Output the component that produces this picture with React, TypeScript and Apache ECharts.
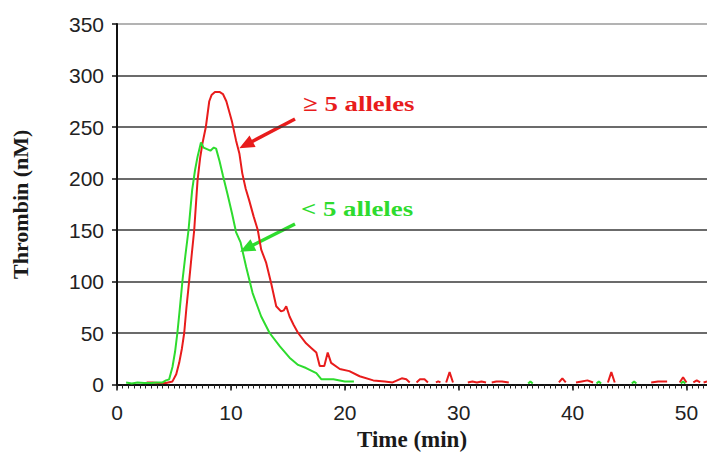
import React, { useEffect, useRef } from "react";
import * as echarts from "echarts";

// x axis: time in minutes, y axis: thrombin concentration in nM
const xMin = 0;
const xMax = 51.8;
const xInterval = 10;
const yMin = 0;
const yMax = 350;
const yInterval = 50;

const xTitle = "Time (min)";
const yTitle = "Thrombin (nM)";
const labelHigh = "≥ 5 alleles";
const labelLow = "< 5 alleles";

// "≥ 5 alleles" curve (null = gap)
const redTime = [
  2.6, 3.1, 3.6, 4.3, 4.87, 5.2, 5.46, 5.7, 5.9, 6.1, 6.34, 6.55, 6.78, 7.07, 7.3, 7.5, 7.8, 8.1, 8.3,
  8.6, 9.0, 9.3, 9.6, 10.1, 10.45, 10.75, 11.0, 11.3, 11.6, 12.0, 12.36, 12.66, 13.1, 13.54, 13.98,
  14.4, 14.65, 14.86, 15.15, 15.5, 15.9, 16.6, 17.1, 17.5, 17.8, 18.2, 18.5, 18.8, 19.56, 20.4, 21.3,
  22.5, 23.5, 24.2, 24.6, 25.0, 25.4, 25.7, 26.0, 26.3, 26.6, 27.0, 27.3, 27.6, 28.0, 28.2, 28.4, 28.6,
  28.9, 29.2, 29.5, 30.0, 30.8, 31.2, 31.6, 32.0, 32.4, 32.6, 32.9, 33.3, 33.8, 34.4, 36.0, 38.8, 39.1,
  39.4, 39.8, 40.3, 40.8, 41.3, 41.8, 42.5, 43.1, 43.4, 43.7, 45.0, 46.9, 47.5, 48.3, 48.8, 49.4, 49.7,
  50.0, 50.3, 50.6, 50.9, 51.2, 51.4, 51.5, 51.8,
];
const redValue: (number | null)[] = [
  2, 2, 1.5, 1.5, 3, 10, 21, 35, 50, 75, 101, 125, 150, 198, 220, 234, 250, 275, 281,
  284, 284, 282, 275, 255, 237, 224, 205, 190, 179, 163, 150, 131, 118, 98, 76,
  71, 72, 76, 66, 58, 50, 40, 35, 31, 18, 18, 31, 21, 15, 13, 8,
  4, 3, 2, 4, 6, 5, 2, null, 2, 5, 5, 2, null, 2, 3, 2, null,
  2, 12, 2, null, 2, 3, 2, 3, 2, null, 2, 3, 3, 2, null, 2, 6,
  2, null, 2, 3, 4, 2, null, 2, 12, 2, null, 2, 3, 3, null, 2, 7,
  2, null, 2, 4, 2, null, 2, 3,
];

// "< 5 alleles" curve (null = gap)
const greenTime = [
  0.8, 1.3, 1.8, 2.4, 3.0, 3.5, 4.0, 4.3, 4.58, 4.87, 5.1, 5.3, 5.5, 5.75, 6.0, 6.28, 6.6, 6.85, 7.07,
  7.37, 7.6, 7.8, 8.2, 8.5, 8.7, 9.0, 9.3, 9.7, 10.1, 10.45, 10.85, 11.34, 11.9, 12.66, 13.4, 14.3,
  15.15, 15.9, 16.6, 17.5, 17.95, 19.0, 20.0, 20.8, 21.5, 36.1, 36.3, 36.5, 37.0, 42.1, 42.3, 42.5,
  43.0, 45.2, 45.4, 45.6, 46.0, 49.5, 49.7, 49.9,
];
const greenValue: (number | null)[] = [
  2, 1, 2, 1.5, 1.5, 2, 2, 4, 5, 17, 32, 50, 72, 101, 125, 150, 189, 208, 221,
  235, 230, 229, 227, 230, 229, 217, 203, 185, 166, 148, 138, 114, 89, 66, 50, 37,
  26, 19, 16, 11, 5, 5, 3, 3, null, 1, 3, 1, null, 1, 3, 1,
  null, 1, 3, 1, null, 1, 3, 1,
];

const RED = "#e81c1c";
const GREEN = "#2edb2e";

function toPairs(t: number[], v: (number | null)[]) {
  return t.map((x, i) => [x, v[i] === null ? "-" : v[i]]);
}

function arrow(x1: number, y1: number, x2: number, y2: number, color: string) {
  const dx = x2 - x1;
  const dy = y2 - y1;
  const len = Math.sqrt(dx * dx + dy * dy);
  const ux = dx / len;
  const uy = dy / len;
  const headLen = 15;
  const half = 6.5;
  const bx = x2 - ux * headLen;
  const by = y2 - uy * headLen;
  const px = -uy * half;
  const py = ux * half;
  return [
    {
      type: "line",
      shape: { x1, y1, x2: bx + ux * 2, y2: by + uy * 2 },
      style: { stroke: color, lineWidth: 3.5 },
      silent: true,
    },
    {
      type: "polygon",
      shape: {
        points: [
          [x2, y2],
          [bx + px, by + py],
          [bx - px, by - py],
        ],
      },
      style: { fill: color },
      silent: true,
    },
  ];
}

export default function App() {
  const ref = useRef<HTMLDivElement>(null);

  useEffect(() => {
    if (!ref.current) return;
    const chart = echarts.init(ref.current, undefined, { renderer: "svg" });
    const splitColors = [] as string[];
    for (let v = yMin; v <= yMax; v += yInterval) splitColors.push(v === yMax ? "#9a9a9a" : "#3a3a3a");

    chart.setOption({
      animation: false,
      backgroundColor: "#ffffff",
      grid: {
        left: 117,
        right: 0,
        top: 24,
        bottom: 67.5,
        containLabel: false,
        outerBoundsMode: "none",
      },
      xAxis: [
        {
          type: "value",
          min: xMin,
          max: xMax,
          interval: xInterval,
          name: xTitle,
          nameLocation: "middle",
          nameGap: 43,
          nameTextStyle: {
            fontFamily: "Liberation Serif",
            fontWeight: "bold",
            fontSize: 23,
            color: "#1a1a1a",
          },
          axisLine: { show: true, onZero: false, lineStyle: { color: "#111", width: 2 } },
          axisTick: { show: true, length: 6, lineStyle: { color: "#111", width: 1.5 } },
          axisLabel: {
            showMaxLabel: false,
            margin: 17,
            fontFamily: "Liberation Sans",
            fontSize: 21,
            color: "#222",
          },
          splitLine: { show: false },
        },
        {
          type: "value",
          min: xMin,
          max: xMax,
          interval: 0.5,
          position: "bottom",
          axisLine: { show: false },
          axisTick: { show: true, length: 4, lineStyle: { color: "#222", width: 1 } },
          axisLabel: { show: false },
          splitLine: { show: false },
        },
      ],
      yAxis: {
        type: "value",
        min: yMin,
        max: yMax,
        interval: yInterval,
        name: yTitle,
        nameLocation: "middle",
        nameRotate: 90,
        nameGap: 86,
        nameTextStyle: {
          fontFamily: "Liberation Serif",
          fontWeight: "bold",
          fontSize: 22,
          color: "#1a1a1a",
        },
        axisLine: { show: true, lineStyle: { color: "#111", width: 2 } },
        axisTick: { show: true, length: 5, lineStyle: { color: "#111", width: 1.5 } },
        axisLabel: {
          margin: 13,
          fontFamily: "Liberation Sans",
          fontSize: 21,
          color: "#222",
        },
        splitLine: { show: true, lineStyle: { color: splitColors, width: 1.6 } },
      },
      series: [
        {
          name: labelHigh,
          type: "line",
          data: toPairs(redTime, redValue),
          showSymbol: false,
          connectNulls: false,
          clip: true,
          lineStyle: { color: RED, width: 2 },
          itemStyle: { color: RED },
          z: 3,
        },
        {
          name: labelLow,
          type: "line",
          data: toPairs(greenTime, greenValue),
          showSymbol: false,
          connectNulls: false,
          clip: true,
          lineStyle: { color: GREEN, width: 2 },
          itemStyle: { color: GREEN },
          z: 4,
        },
      ],
      graphic: [
        {
          type: "text",
          x: 303,
          y: 103,
          scaleX: 1.22,
          style: {
            text: labelHigh,
            fill: RED,
            font: "bold 22px 'Liberation Serif'",
            verticalAlign: "middle",
            align: "left",
          },
          silent: true,
        },
        {
          type: "text",
          x: 301,
          y: 208,
          scaleX: 1.22,
          style: {
            text: labelLow,
            fill: GREEN,
            font: "bold 22px 'Liberation Serif'",
            verticalAlign: "middle",
            align: "left",
          },
          silent: true,
        },
        ...arrow(295, 119, 239.3, 148.3, RED),
        ...arrow(295, 224, 240, 251.7, GREEN),
      ],
    });
    return () => chart.dispose();
  }, []);

  return (
    <div
      ref={ref}
      style={{ position: "fixed", left: 0, top: 0, width: 707, height: 452, background: "#fff" }}
    />
  );
}
